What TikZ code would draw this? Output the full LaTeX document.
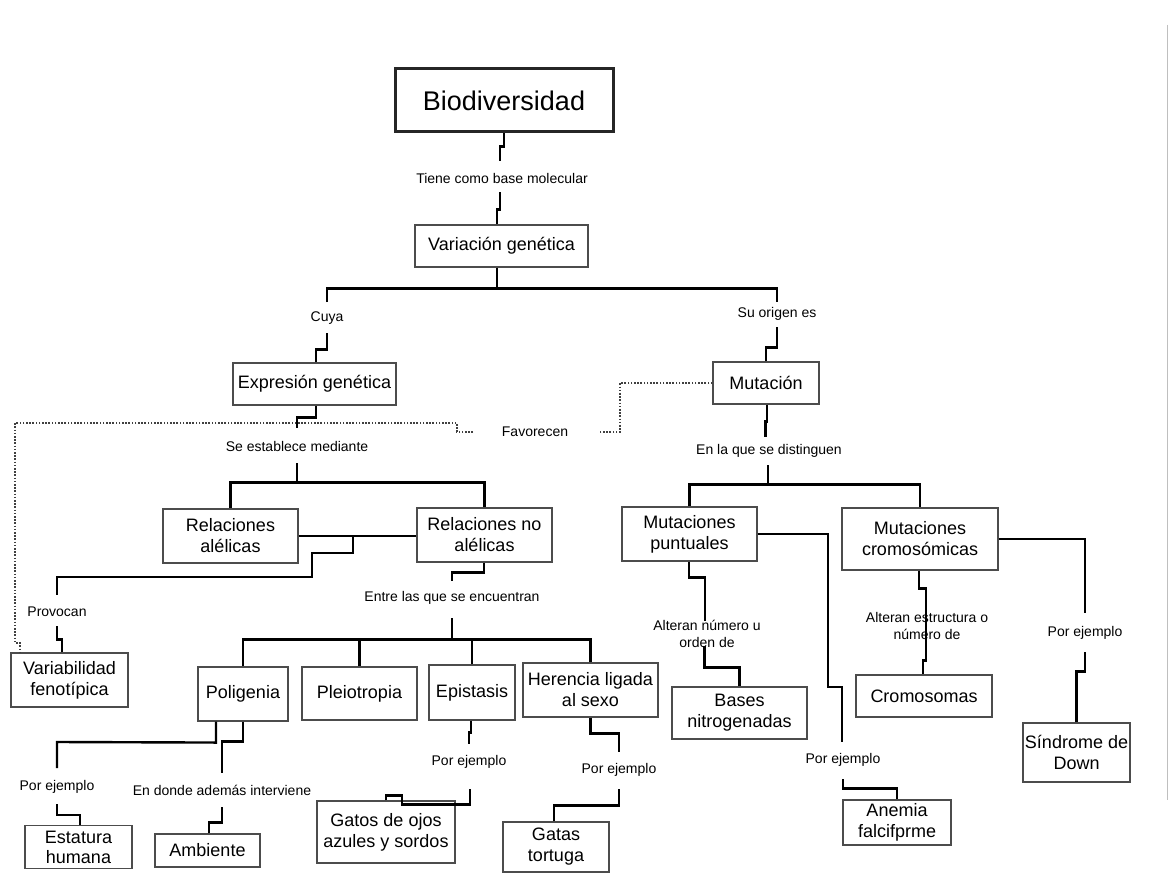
\documentclass[tikz,border=0pt]{standalone}
\usepackage{fontspec}
\setmainfont{Liberation Sans}
\usetikzlibrary{calc}
\begin{document}
\begin{tikzpicture}[x=1pt,y=-1pt,
  box/.style={draw=black!70, line width=1.1pt, inner sep=0pt, align=center,
    font=\fontsize{18}{21}\selectfont},
  lbl/.style={inner sep=0pt, align=center, font=\fontsize{14}{17.5}\selectfont},
  conn/.style={line width=2.4pt, line join=miter},
  favor/.style={line width=1.3pt, dash pattern=on 1.6pt off 1.6pt, black!75}]

% page
\fill[white] (0,0) rectangle (1174,893);
\useasboundingbox (0,0) rectangle (1174,893);
\draw[black!25, line width=1pt] (1167,25) -- (1167,800);

% ---------- concept boxes ----------
\node[box, draw=black!85, line width=3pt, minimum width=218pt, minimum height=63pt,
  font=\fontsize{27}{30}\selectfont] (bio) at (504,100.5) {Biodiversidad};
\node[box, minimum width=173pt, minimum height=42pt] (var) at (501.5,246) {Variación genética};
\node[box, minimum width=163pt, minimum height=42pt] (expr) at (314.5,384) {Expresión genética};
\node[box, minimum width=106pt, minimum height=42pt] (mut) at (766,383) {Mutación};
\node[box, minimum width=135pt, minimum height=54pt] (relal) at (230.5,536) {Relaciones\\alélicas};
\node[box, minimum width=135pt, minimum height=54pt] (relno) at (484.5,535) {Relaciones no\\alélicas};
\node[box, minimum width=135pt, minimum height=54pt] (mutp) at (689.5,534) {Mutaciones\\puntuales};
\node[box, minimum width=156pt, minimum height=62pt] (mutc) at (920,539) {Mutaciones\\cromosómicas};
\node[box, minimum width=117pt, minimum height=54pt] (varf) at (69.5,680) {Variabilidad\\fenotípica};
\node[box, minimum width=90pt, minimum height=54pt] (polig) at (243,694) {Poligenia};
\node[box, minimum width=115pt, minimum height=53pt] (pleio) at (359.5,693.5) {Pleiotropia};
\node[box, minimum width=86pt, minimum height=55pt] (epis) at (472,692.5) {Epistasis};
\node[box, minimum width=135pt, minimum height=54pt] (heren) at (590.5,690) {Herencia ligada\\al sexo};
\node[box, minimum width=135pt, minimum height=52pt] (bases) at (739.5,713) {Bases\\nitrogenadas};
\node[box, minimum width=136pt, minimum height=42pt] (cromo) at (924,696) {Cromosomas};
\node[box, minimum width=107pt, minimum height=59pt] (sindr) at (1076.5,752.5) {Síndrome de\\Down};
\node[box, minimum width=107pt, minimum height=43pt, font=\fontsize{18}{20}\selectfont] (estat) at (78.5,847) {Estatura\\humana};
\node[box, minimum width=105pt, minimum height=33pt] (ambi) at (207.5,850.5) {Ambiente};
\node[box, minimum width=138pt, minimum height=62pt] (gatos) at (386,832) {Gatos de ojos\\azules y sordos};
\node[box, minimum width=106pt, minimum height=50pt] (gatas) at (556,847) {Gatas\\tortuga};
\node[box, minimum width=108pt, minimum height=45pt] (anem) at (897,822.5) {Anemia\\falcifprme};

% ---------- linking phrases ----------
\node[lbl] (ltiene) at (502,178) {Tiene como base molecular};
\node[lbl] (lcuya) at (327,318) {Cuya};
\node[lbl] (lorigen) at (777,314) {Su origen es};
\node[lbl] (lestab) at (297,446) {Se establece mediante};
\node[lbl] (lfav) at (535,432) {Favorecen};
\node[lbl] (ldist) at (769,451) {En la que se distinguen};
\node[lbl] (lprov) at (57,612) {Provocan};
\node[lbl] (lentre) at (452,598) {Entre las que se encuentran};
\node[lbl] (laltnum) at (707,634) {Alteran número u\\orden de};
\node[lbl] (laltest) at (927,626) {Alteran estructura o\\número de};
\node[lbl] (lpesind) at (1085,633) {Por ejemplo};
\node[lbl] (lpeest) at (57,787) {Por ejemplo};
\node[lbl] (ldonde) at (222,790) {En donde además interviene};
\node[lbl] (lpeepis) at (469,762) {Por ejemplo};
\node[lbl] (lpeher) at (619,770) {Por ejemplo};
\node[lbl] (lpeanem) at (843,760) {Por ejemplo};

% ---------- connectors ----------
% Biodiversidad -> Variacion genetica
\draw[conn] (bio.south) -- ++(0,13) -- ++(-4,0) -- ++(0,15);
\draw[conn] ([xshift=-4.5pt]var.north) -- ++(0,-15) -- ++(3,0) -- ++(0,-17);
% Variacion genetica -> two branches
\draw[conn] ([xshift=-4.5pt]var.south) -- ++(0,21) coordinate (vb);
\draw[conn] (327,302) |- (vb) -| (777,302);
% Cuya -> Expresion genetica
\draw[conn] ([xshift=1.5pt]expr.north) -- ++(0,-13) -- ++(11,0) -- ++(0,-16);
% Su origen es -> Mutacion
\draw[conn] (mut.north) -- ++(0,-14) -- ++(11,0) -- ++(0,-20);
% Expresion genetica -> Se establece mediante
\draw[conn] ([xshift=1.5pt]expr.south) -- ++(0,12) -- ++(-19,0) -- ++(0,10);
% Se establece mediante -> relaciones
\draw[conn] (297,463) -- (297,483);
\draw[conn] (relal.north) -- ++(0,-26) -| (relno.north);
\draw[conn] (relal.east) -- (relno.west |- relal.east);
% Relaciones -> Provocan -> Variabilidad fenotipica
\draw[conn] (353,536) -- (353,553) -- (312,553) -- (312,577) -- (57,577) -- (57,595);
\draw[conn] ([xshift=-7.5pt]varf.north) -- ++(0,-13) -- ++(-5,0) -- ++(0,-13);
% Favorecen (dotted)
\draw[favor] (mut.west) -- (620,383) -- (620,432) -- (599,432);
\draw[favor] (473,432) -- (457,432) -- (457,423) -- (15,423) -- (15,643) -- (20,643)
  -- (varf.north west -| 20,0);
% Mutacion -> En la que se distinguen
\draw[conn] ([xshift=1pt]mut.south) -- ++(0,17) -- ++(-1.5,0) -- ++(0,15);
\draw[conn] (768,465) -- (768,485);
\draw[conn] (mutp.north) -- ++(0,-22) -| (mutc.north);
% Relaciones no alelicas -> Entre las que se encuentran
\draw[conn] ([xshift=-0.5pt]relno.south) -- ++(0,10) -- ++(-32,0) -- ++(0,8);
\draw[conn] (452,618) -- (452,640);
\draw[conn] (polig.north) -- ++(0,-27) -| (heren.north);
\draw[conn] (pleio.north) -- ++(0,-27);
\draw[conn] (epis.north) -- ++(0,-25);
% Mutaciones puntuales -> Bases nitrogenadas
\draw[conn] ([xshift=-0.5pt]mutp.south) -- ++(0,16) -- ++(16,0) -- ++(0,43);
\draw[conn] (bases.north) -- ++(0,-19) -- ++(-35,0) -- ++(0,-21);
% Mutaciones puntuales -> Anemia
\draw[conn] (mutp.east) -- (828,534) -- (828,687) -- (842,687) -- (842,742);
\draw[conn] (anem.north) -- ++(0,-11) -- ++(-54,0) -- ++(0,-9);
% Mutaciones cromosomicas -> Cromosomas
\draw[conn] ([xshift=-1pt]mutc.south) -- ++(0,18) -- ++(7,0) -- ++(0,72) -- ++(-3,0) -- (cromo.north -| 923,0);
% Mutaciones cromosomicas -> Sindrome de Down
\draw[conn] (mutc.east) -- (1085,539) -- (1085,613);
\draw[conn] (sindr.north) -- ++(0,-51) -- ++(8.5,0) -- ++(0,-19);
% Poligenia -> Estatura humana
\draw[conn] ([xshift=-27pt]polig.south) -- ++(0,21) -- (57,742) -- (57,768);
\draw[conn] ([xshift=1.5pt]estat.north) -- ++(0,-10) -- ++(-23,0) -- ++(0,-11);
% Poligenia -> Ambiente
\draw[conn] (polig.south) -- ++(0,20) -- ++(-21,0) -- ++(0,31);
\draw[conn] ([xshift=1.5pt]ambi.north) -- ++(0,-11) -- ++(13,0) -- ++(0,-15);
% Epistasis -> Gatos de ojos azules
\draw[conn] ([xshift=-1pt]epis.south) -- ++(0,12) -- ++(-2,0) -- ++(0,11);
\draw[conn] (gatos.north) -- ++(0,-5) -- ++(16,0) -- ++(0,9) -- ++(68,0) -- ++(0,-15);
% Herencia ligada al sexo -> Gatas tortuga
\draw[conn] (heren.south) -- ++(0,16) -- ++(28.5,0) -- ++(0,18);
\draw[conn] ([xshift=-2pt]gatas.north) -- ++(0,-16) -- ++(65,0) -- ++(0,-16);
\end{tikzpicture}
\end{document}
